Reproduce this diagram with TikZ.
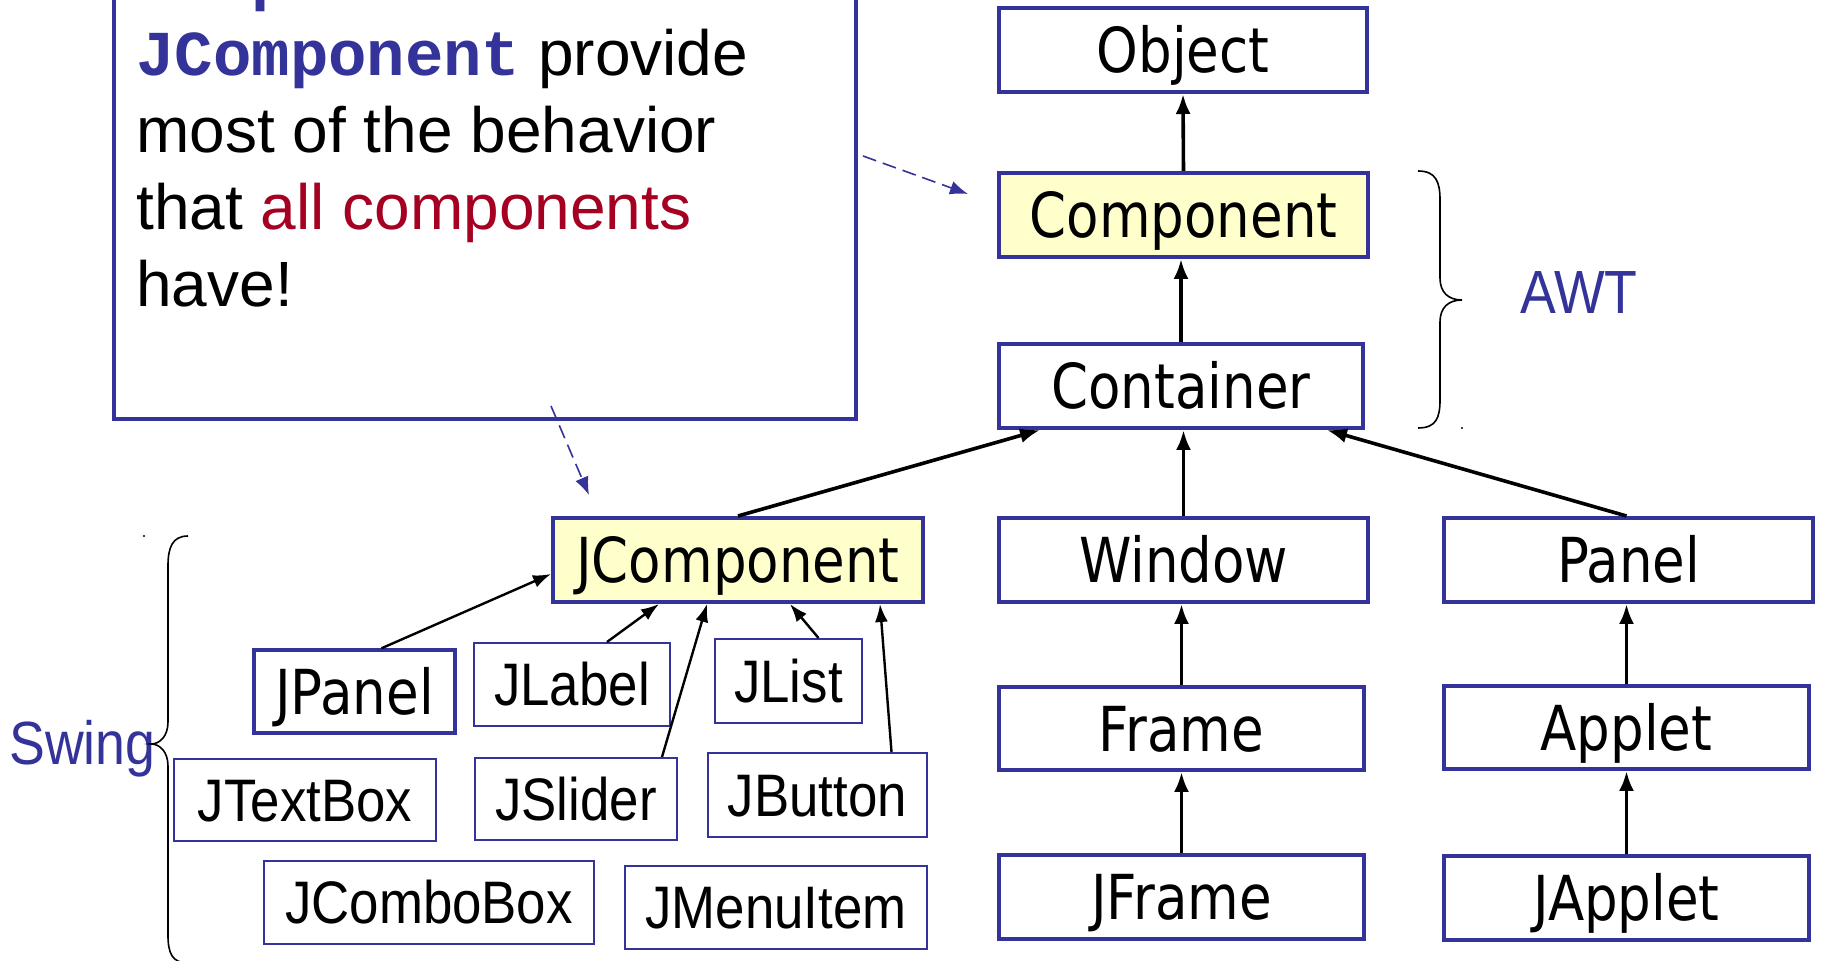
\documentclass[tikz,border=0pt]{standalone}
\usepackage{fontspec}
\setmainfont{Liberation Sans}
\newfontfamily\boxfont[FakeStretch=0.855]{DejaVu Sans}
\newfontfamily\swfont[FakeStretch=0.88]{Liberation Sans}
\newfontfamily\courfont{Liberation Mono}
\usetikzlibrary{arrows.meta,calc}
\definecolor{bblue}{RGB}{51,51,153}
\definecolor{lyellow}{RGB}{255,255,204}
\definecolor{dred}{RGB}{165,0,33}
\begin{document}
\begin{tikzpicture}[x=0.5pt,y=-0.5pt,
  sz/.style 2 args={minimum width=#1*0.5pt, minimum height=#2*0.5pt},
  awt/.style={draw=bblue, line width=2pt, inner sep=0pt, font=\boxfont\fontsize{31}{37}\selectfont, text height=22.6pt, text depth=0pt},
  sw/.style={draw=bblue, line width=1pt, inner sep=0pt, font=\swfont\fontsize{30}{36}\selectfont, text height=21.5pt, text depth=0pt},
  hl/.style={fill=lyellow},
  inh/.style={-{Latex[length=10pt,width=7.5pt]}, line width=1.8pt},
  sinh/.style={-{Latex[length=9pt,width=6.5pt]}, line width=1.2pt},
  dsh/.style={draw=bblue, dash pattern=on 7pt off 3.5pt, line width=0.8pt, -{Latex[length=9pt,width=7pt]}},
  brc/.style={line width=0.8pt},
  ctext/.style={anchor=base west, inner sep=0pt, font=\fontsize{32}{38}\selectfont},
  lbl/.style={anchor=base west, inner sep=0pt, text=bblue, font=\swfont\fontsize{30.5}{36}\selectfont}]
\fill[white] (0,0) rectangle (1822,961);
\useasboundingbox (0,0) rectangle (1822,961);

% callout
\node[draw=bblue, line width=2pt, sz={742}{449}, inner sep=0pt] (callout) at (485,194.5) {};
\node[ctext] (t0) at (136,-1) {\textcolor{bblue}{\courfont\bfseries Component}};
\node[ctext] (t1) at (136,76) {\textcolor{bblue}{\courfont\bfseries JComponent} provide};
\node[ctext] (t2) at (136,153) {most of the behavior};
\node[ctext] (t3) at (136,230) {that \textcolor{dred}{all components}};
\node[ctext] (t4) at (136,307) {have!};

% AWT boxes
\node[awt,sz={368}{84}] (obj) at (1183,50) {Object};
\node[awt,hl,sz={369}{84}] (comp) at (1183.5,215) {Component};
\node[awt,sz={364}{84}] (cont) at (1181,386) {Container};
\node[awt,hl,sz={370}{84}] (jcomp) at (738,560) {JComponent};
\node[awt,sz={369}{84}] (win) at (1183.5,560) {Window};
\node[awt,sz={369}{84}] (pnl) at (1628.5,560) {Panel};
\node[awt,sz={365}{83}] (frm) at (1181.5,728.5) {Frame};
\node[awt,sz={365}{83}] (apl) at (1626.5,727.5) {Applet};
\node[awt,sz={365}{84}] (jfrm) at (1181.5,897) {JFrame};
\node[awt,sz={365}{84}] (japl) at (1626.5,898) {JApplet};

% Swing boxes
\node[awt,line width=1.7pt,sz={201}{83}] (jpanel) at (354.5,691.5) {JPanel};
\node[sw,sz={196}{83}] (jlabel) at (572,684.5) {JLabel};
\node[sw,sz={147}{84}] (jlist) at (788.5,681) {JList};
\node[sw,sz={262}{82}] (jtext) at (305,800) {JTextBox};
\node[sw,sz={202}{82}] (jslider) at (576,799) {JSlider};
\node[sw,sz={219}{84}] (jbutton) at (817.5,795) {JButton};
\node[sw,sz={330}{83}] (jcombo) at (429,902.5) {JComboBox};
\node[sw,sz={302}{83}] (jmenu) at (776,907.5) {JMenuItem};

% labels
\node[lbl] (awtlbl) at (1520,314) {AWT};
\node[lbl] (swlbl) at (9,765) {Swing};

% braces
\draw[brc] (1418,171) .. controls (1436,171) and (1440,182) .. (1440,200) -- (1440,278)
  .. controls (1440,292) and (1448,300) .. (1462,300)
  .. controls (1448,300) and (1440,308) .. (1440,322) -- (1440,400)
  .. controls (1440,418) and (1436,428) .. (1418,428);
\fill (1462,428) circle (1.2);
\draw[brc] (188,536) .. controls (172,536) and (168,548) .. (168,566) -- (168,722)
  .. controls (168,736) and (160,744) .. (151,744)
  .. controls (160,744) and (168,752) .. (168,766) -- (168,935)
  .. controls (168,953) and (172,963) .. (188,963);
\fill (144,536) circle (1.2);

% AWT inheritance arrows
\draw[inh] (comp.north) -- (obj.south);
\draw[inh] (cont.north) -- (cont.north |- comp.south);
\draw[inh] (jcomp.north) -- ($(cont.south west)+(43,0)$);
\draw[inh] (win.north) -- (win.north |- cont.south);
\draw[inh] ($(pnl.north)+(-2,0)$) -- ($(cont.south east)+(-38,0)$);
\draw[inh] (frm.north) -- (frm.north |- win.south);
\draw[inh] (jfrm.north) -- (jfrm.north |- frm.south);
\draw[inh] (apl.north) -- (apl.north |- pnl.south);
\draw[inh] (japl.north) -- (japl.north |- apl.south);

% Swing arrows
\draw[sinh] ($(jpanel.north)+(27,0)$) -- ($(jcomp.west)+(0,14)$);
\draw[sinh] ($(jlabel.north)+(35,0)$) -- ($(jcomp.south west)+(108,0)$);
\draw[sinh] ($(jslider.north)+(86,0)$) -- ($(jcomp.south west)+(156,0)$);
\draw[sinh] ($(jlist.north)+(30,0)$) -- ($(jcomp.south west)+(239,0)$);
\draw[sinh] ($(jbutton.north)+(74,0)$) -- ($(jcomp.south west)+(329,0)$);

% dashed pointers
\draw[dsh] ($(callout.north east)+(5,188)$) -- ($(comp.west)+(-29,-21)$);
\draw[dsh] ($(callout.south)+(66,-15)$) -- ($(jcomp.north west)+(38,-21)$);
\end{tikzpicture}
\end{document}
